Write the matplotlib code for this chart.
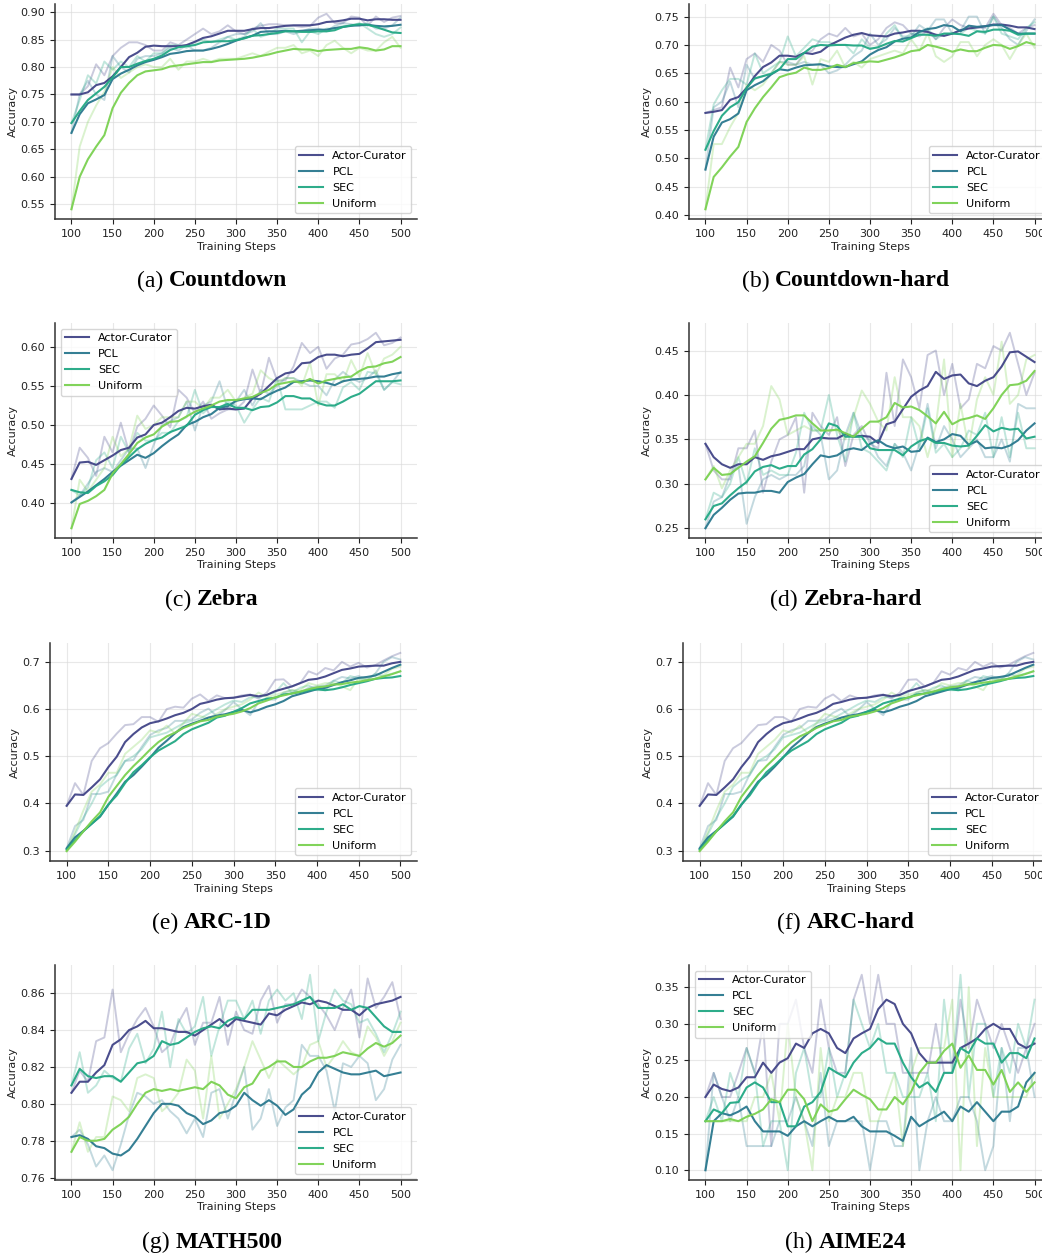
import numpy as np
import matplotlib
matplotlib.use("Agg")
import matplotlib.pyplot as plt

steps = list(range(100, 501, 10))
methods = ["Actor-Curator", "PCL", "SEC", "Uniform"]
colors = ["#414487", "#2a788e", "#22a884", "#7ad151"]

# ---------------- (a) Countdown ----------------
cd_ac = [0.75,0.75,0.754,0.767,0.771,0.783,0.80,0.818,0.826,0.837,0.839,0.838,0.838,0.838,0.840,0.846,0.853,0.856,0.861,0.866,0.866,0.866,0.869,0.871,0.871,0.873,0.875,0.876,0.876,0.876,0.878,0.882,0.883,0.885,0.888,0.888,0.885,0.887,0.887,0.886,0.886]
cd_pcl = [0.68,0.714,0.734,0.741,0.749,0.778,0.788,0.795,0.803,0.809,0.813,0.818,0.824,0.826,0.829,0.830,0.830,0.833,0.837,0.842,0.848,0.853,0.857,0.864,0.865,0.865,0.866,0.865,0.866,0.867,0.868,0.868,0.871,0.873,0.875,0.876,0.877,0.875,0.874,0.875,0.877]
cd_sec = [0.698,0.720,0.740,0.752,0.764,0.781,0.800,0.800,0.806,0.811,0.815,0.821,0.831,0.836,0.838,0.840,0.845,0.846,0.847,0.847,0.849,0.852,0.857,0.858,0.860,0.862,0.865,0.865,0.864,0.864,0.865,0.865,0.867,0.873,0.876,0.878,0.877,0.873,0.868,0.863,0.862]
cd_uni = [0.541,0.600,0.632,0.655,0.676,0.725,0.753,0.771,0.785,0.792,0.794,0.796,0.801,0.803,0.805,0.807,0.809,0.809,0.812,0.813,0.814,0.815,0.817,0.820,0.823,0.827,0.830,0.833,0.832,0.832,0.829,0.831,0.832,0.833,0.833,0.836,0.834,0.830,0.832,0.838,0.838]
cd_ac_raw = [0.75,0.75,0.765,0.805,0.785,0.82,0.835,0.845,0.845,0.84,0.83,0.83,0.845,0.84,0.85,0.86,0.87,0.86,0.865,0.876,0.865,0.86,0.87,0.875,0.878,0.878,0.876,0.875,0.873,0.875,0.89,0.897,0.88,0.88,0.892,0.89,0.875,0.892,0.882,0.89,0.893]
cd_pcl_raw = [0.68,0.75,0.775,0.75,0.74,0.82,0.80,0.79,0.815,0.82,0.82,0.825,0.835,0.83,0.84,0.83,0.83,0.835,0.845,0.855,0.86,0.86,0.865,0.88,0.86,0.86,0.865,0.86,0.865,0.87,0.87,0.865,0.875,0.88,0.878,0.875,0.88,0.87,0.87,0.876,0.89]
cd_sec_raw = [0.698,0.74,0.785,0.77,0.81,0.795,0.81,0.80,0.82,0.81,0.825,0.825,0.84,0.84,0.835,0.845,0.85,0.845,0.85,0.855,0.85,0.855,0.87,0.855,0.86,0.87,0.87,0.87,0.845,0.865,0.86,0.87,0.87,0.875,0.875,0.88,0.87,0.86,0.855,0.86,0.872]
cd_uni_raw = [0.541,0.655,0.70,0.73,0.755,0.80,0.78,0.79,0.80,0.805,0.80,0.80,0.815,0.795,0.81,0.81,0.815,0.81,0.815,0.815,0.815,0.82,0.825,0.82,0.828,0.835,0.835,0.84,0.825,0.83,0.82,0.84,0.848,0.835,0.825,0.835,0.83,0.83,0.845,0.855,0.835]

# ---------------- (b) Countdown-hard ----------------
cdh_ac = [0.58,0.582,0.585,0.603,0.608,0.624,0.645,0.661,0.669,0.681,0.681,0.679,0.686,0.684,0.688,0.699,0.706,0.713,0.718,0.721,0.717,0.716,0.715,0.720,0.722,0.725,0.725,0.723,0.718,0.716,0.72,0.726,0.729,0.731,0.733,0.736,0.736,0.734,0.731,0.731,0.728]
cdh_pcl = [0.48,0.538,0.563,0.569,0.579,0.62,0.629,0.636,0.648,0.657,0.655,0.66,0.664,0.665,0.666,0.662,0.661,0.661,0.666,0.671,0.683,0.691,0.696,0.706,0.711,0.713,0.723,0.728,0.730,0.735,0.733,0.724,0.734,0.732,0.733,0.735,0.735,0.727,0.72,0.72,0.72]
cdh_sec = [0.515,0.548,0.575,0.59,0.599,0.624,0.641,0.645,0.649,0.657,0.675,0.675,0.686,0.697,0.700,0.699,0.70,0.70,0.699,0.699,0.693,0.696,0.702,0.707,0.706,0.712,0.718,0.718,0.716,0.72,0.72,0.719,0.716,0.724,0.723,0.727,0.727,0.725,0.718,0.72,0.72]
cdh_uni = [0.41,0.467,0.484,0.503,0.52,0.564,0.588,0.608,0.625,0.643,0.648,0.651,0.66,0.656,0.656,0.659,0.665,0.661,0.668,0.669,0.671,0.670,0.674,0.678,0.683,0.689,0.691,0.70,0.697,0.693,0.688,0.692,0.689,0.689,0.695,0.70,0.699,0.693,0.698,0.705,0.701]
cdh_ac_raw = [0.58,0.585,0.59,0.66,0.625,0.675,0.685,0.67,0.70,0.69,0.665,0.665,0.685,0.69,0.71,0.72,0.715,0.73,0.715,0.72,0.70,0.71,0.73,0.74,0.735,0.72,0.715,0.725,0.71,0.73,0.745,0.735,0.73,0.73,0.73,0.755,0.735,0.73,0.72,0.73,0.735]
cdh_pcl_raw = [0.48,0.59,0.60,0.635,0.59,0.665,0.64,0.645,0.65,0.67,0.67,0.665,0.67,0.665,0.665,0.65,0.655,0.665,0.68,0.69,0.72,0.70,0.71,0.73,0.715,0.715,0.735,0.725,0.745,0.745,0.72,0.725,0.75,0.75,0.72,0.75,0.73,0.71,0.70,0.725,0.745]
cdh_sec_raw = [0.515,0.595,0.62,0.64,0.64,0.63,0.685,0.65,0.66,0.67,0.715,0.68,0.695,0.71,0.705,0.705,0.70,0.70,0.685,0.71,0.695,0.695,0.72,0.735,0.71,0.72,0.72,0.73,0.71,0.72,0.72,0.72,0.73,0.725,0.72,0.75,0.72,0.715,0.71,0.73,0.74]
cdh_uni_raw = [0.41,0.525,0.525,0.555,0.58,0.63,0.62,0.63,0.65,0.67,0.665,0.665,0.68,0.63,0.675,0.67,0.69,0.66,0.67,0.66,0.675,0.68,0.685,0.69,0.685,0.71,0.69,0.72,0.68,0.67,0.68,0.705,0.705,0.68,0.70,0.71,0.70,0.675,0.70,0.72,0.695]

# ---------------- (c) Zebra ----------------
zb_ac = [0.431,0.452,0.453,0.449,0.455,0.461,0.468,0.471,0.484,0.488,0.500,0.503,0.510,0.518,0.522,0.521,0.524,0.526,0.520,0.521,0.520,0.521,0.534,0.540,0.550,0.560,0.566,0.568,0.579,0.580,0.587,0.590,0.590,0.588,0.590,0.591,0.598,0.606,0.607,0.608,0.609]
zb_pcl = [0.401,0.408,0.415,0.423,0.431,0.44,0.448,0.455,0.462,0.458,0.464,0.473,0.481,0.488,0.500,0.504,0.510,0.514,0.522,0.524,0.531,0.533,0.534,0.533,0.539,0.544,0.548,0.555,0.556,0.557,0.556,0.554,0.551,0.556,0.558,0.559,0.560,0.562,0.562,0.565,0.567]
zb_sec = [0.417,0.414,0.413,0.422,0.428,0.436,0.449,0.459,0.469,0.476,0.481,0.484,0.491,0.495,0.499,0.513,0.519,0.523,0.523,0.527,0.522,0.522,0.519,0.523,0.524,0.529,0.537,0.537,0.534,0.534,0.528,0.525,0.525,0.530,0.536,0.540,0.548,0.556,0.556,0.556,0.557]
zb_uni = [0.368,0.399,0.403,0.409,0.417,0.438,0.450,0.463,0.477,0.484,0.488,0.498,0.504,0.505,0.511,0.517,0.521,0.525,0.530,0.532,0.532,0.534,0.536,0.541,0.545,0.552,0.554,0.556,0.554,0.559,0.553,0.557,0.559,0.561,0.562,0.569,0.574,0.575,0.579,0.581,0.587]
zb_ac_raw = [0.431,0.471,0.458,0.435,0.485,0.465,0.503,0.465,0.498,0.508,0.525,0.512,0.497,0.545,0.535,0.515,0.53,0.508,0.515,0.52,0.52,0.53,0.571,0.54,0.586,0.557,0.557,0.575,0.605,0.592,0.60,0.572,0.585,0.59,0.603,0.605,0.61,0.618,0.602,0.605,0.612]
zb_pcl_raw = [0.401,0.41,0.425,0.44,0.445,0.44,0.455,0.47,0.47,0.445,0.475,0.50,0.505,0.51,0.53,0.493,0.525,0.53,0.556,0.52,0.53,0.545,0.525,0.545,0.54,0.55,0.56,0.56,0.555,0.55,0.55,0.538,0.558,0.568,0.56,0.555,0.56,0.57,0.545,0.555,0.568]
zb_sec_raw = [0.417,0.41,0.42,0.455,0.465,0.445,0.485,0.465,0.49,0.48,0.48,0.49,0.49,0.505,0.51,0.545,0.515,0.525,0.52,0.53,0.525,0.503,0.52,0.535,0.53,0.56,0.52,0.52,0.52,0.525,0.53,0.53,0.522,0.548,0.555,0.545,0.568,0.566,0.545,0.555,0.552]
zb_uni_raw = [0.368,0.43,0.415,0.43,0.445,0.485,0.46,0.47,0.512,0.495,0.50,0.51,0.51,0.51,0.53,0.53,0.52,0.535,0.535,0.545,0.53,0.535,0.54,0.57,0.56,0.555,0.56,0.56,0.55,0.58,0.525,0.565,0.565,0.555,0.583,0.562,0.592,0.565,0.585,0.59,0.60]

# ---------------- (d) Zebra-hard ----------------
zh_ac = [0.345,0.330,0.322,0.318,0.322,0.322,0.330,0.327,0.331,0.333,0.336,0.339,0.339,0.35,0.352,0.351,0.351,0.356,0.353,0.354,0.353,0.346,0.367,0.370,0.384,0.398,0.405,0.410,0.426,0.418,0.422,0.423,0.413,0.410,0.416,0.420,0.432,0.448,0.449,0.443,0.437]
zh_pcl = [0.250,0.265,0.273,0.282,0.289,0.290,0.290,0.292,0.292,0.290,0.302,0.307,0.311,0.322,0.332,0.330,0.332,0.338,0.340,0.338,0.345,0.349,0.343,0.340,0.342,0.336,0.337,0.352,0.347,0.350,0.356,0.354,0.344,0.348,0.340,0.341,0.340,0.343,0.349,0.360,0.368]
zh_sec = [0.260,0.275,0.278,0.287,0.295,0.302,0.314,0.319,0.321,0.317,0.320,0.320,0.333,0.339,0.350,0.368,0.365,0.353,0.353,0.353,0.340,0.338,0.338,0.338,0.332,0.342,0.348,0.351,0.346,0.346,0.343,0.342,0.343,0.354,0.366,0.359,0.363,0.361,0.362,0.351,0.353]
zh_uni = [0.305,0.318,0.310,0.311,0.318,0.325,0.331,0.346,0.362,0.372,0.374,0.377,0.377,0.368,0.360,0.360,0.361,0.357,0.353,0.362,0.370,0.370,0.375,0.391,0.386,0.387,0.383,0.376,0.368,0.381,0.367,0.372,0.374,0.377,0.373,0.385,0.400,0.411,0.412,0.416,0.427]
zh_ac_raw = [0.345,0.315,0.305,0.305,0.34,0.34,0.36,0.29,0.325,0.35,0.355,0.375,0.29,0.38,0.365,0.355,0.375,0.32,0.355,0.365,0.345,0.34,0.425,0.365,0.44,0.42,0.385,0.445,0.45,0.40,0.435,0.385,0.395,0.435,0.43,0.455,0.45,0.47,0.435,0.40,0.425]
zh_pcl_raw = [0.25,0.28,0.285,0.31,0.32,0.255,0.285,0.305,0.31,0.305,0.31,0.31,0.32,0.365,0.355,0.305,0.315,0.355,0.38,0.355,0.35,0.33,0.32,0.345,0.335,0.315,0.345,0.39,0.34,0.365,0.35,0.33,0.34,0.35,0.33,0.33,0.35,0.325,0.39,0.385,0.385]
zh_sec_raw = [0.26,0.29,0.285,0.30,0.33,0.30,0.34,0.31,0.315,0.31,0.31,0.335,0.38,0.36,0.36,0.40,0.355,0.325,0.38,0.34,0.335,0.325,0.315,0.345,0.33,0.375,0.34,0.385,0.335,0.345,0.33,0.34,0.36,0.355,0.38,0.33,0.375,0.33,0.38,0.34,0.34]
zh_uni_raw = [0.305,0.32,0.295,0.315,0.33,0.345,0.345,0.365,0.41,0.395,0.355,0.36,0.365,0.36,0.36,0.36,0.36,0.35,0.375,0.405,0.39,0.37,0.36,0.42,0.375,0.375,0.365,0.33,0.365,0.44,0.33,0.39,0.34,0.395,0.42,0.40,0.46,0.39,0.40,0.44,0.445]

# ---------------- (e) ARC-1D / (f) ARC-hard ----------------
arc_ac = [0.395,0.419,0.418,0.434,0.451,0.477,0.499,0.530,0.547,0.561,0.570,0.574,0.580,0.587,0.592,0.600,0.611,0.615,0.620,0.623,0.624,0.627,0.630,0.627,0.630,0.638,0.643,0.648,0.655,0.662,0.664,0.669,0.676,0.683,0.686,0.690,0.691,0.692,0.692,0.697,0.700]
arc_pcl = [0.305,0.328,0.342,0.357,0.372,0.397,0.421,0.446,0.460,0.478,0.497,0.518,0.533,0.549,0.562,0.569,0.575,0.582,0.586,0.589,0.594,0.598,0.593,0.598,0.605,0.610,0.617,0.627,0.632,0.637,0.642,0.645,0.651,0.657,0.661,0.666,0.668,0.671,0.679,0.687,0.694]
arc_sec = [0.302,0.322,0.341,0.357,0.373,0.398,0.417,0.443,0.466,0.481,0.498,0.512,0.522,0.532,0.547,0.557,0.564,0.571,0.582,0.586,0.594,0.602,0.612,0.617,0.622,0.624,0.631,0.633,0.636,0.640,0.642,0.640,0.642,0.646,0.651,0.655,0.659,0.664,0.666,0.667,0.670]
arc_uni = [0.299,0.319,0.341,0.362,0.381,0.414,0.437,0.460,0.479,0.496,0.514,0.530,0.542,0.550,0.560,0.567,0.574,0.577,0.584,0.587,0.590,0.595,0.602,0.612,0.618,0.625,0.629,0.633,0.637,0.642,0.646,0.648,0.652,0.653,0.656,0.658,0.661,0.664,0.669,0.674,0.680]
arc_ac_raw = [0.395,0.443,0.418,0.49,0.517,0.528,0.548,0.566,0.568,0.583,0.583,0.573,0.60,0.605,0.603,0.622,0.631,0.617,0.629,0.623,0.624,0.629,0.631,0.622,0.635,0.662,0.663,0.648,0.655,0.68,0.673,0.687,0.682,0.70,0.69,0.698,0.688,0.693,0.703,0.712,0.719]
arc_pcl_raw = [0.305,0.352,0.365,0.42,0.42,0.425,0.462,0.49,0.492,0.52,0.545,0.555,0.56,0.575,0.575,0.578,0.592,0.601,0.585,0.598,0.615,0.60,0.587,0.615,0.62,0.62,0.635,0.64,0.635,0.645,0.648,0.65,0.66,0.668,0.665,0.67,0.663,0.675,0.70,0.71,0.705]
arc_sec_raw = [0.302,0.335,0.37,0.40,0.435,0.45,0.46,0.49,0.50,0.515,0.54,0.545,0.55,0.56,0.57,0.575,0.58,0.59,0.60,0.61,0.618,0.615,0.625,0.625,0.63,0.635,0.655,0.635,0.645,0.65,0.64,0.64,0.66,0.655,0.67,0.665,0.66,0.675,0.67,0.675,0.68]
arc_uni_raw = [0.299,0.34,0.385,0.425,0.44,0.465,0.465,0.505,0.52,0.535,0.555,0.55,0.565,0.548,0.57,0.59,0.585,0.58,0.59,0.60,0.605,0.61,0.62,0.635,0.625,0.63,0.635,0.64,0.64,0.655,0.65,0.655,0.655,0.648,0.64,0.665,0.663,0.665,0.672,0.685,0.69]

# ---------------- (g) MATH500 ----------------
m5_ac = [0.806,0.812,0.812,0.817,0.821,0.832,0.835,0.840,0.842,0.845,0.841,0.841,0.840,0.839,0.839,0.837,0.840,0.843,0.846,0.842,0.846,0.845,0.844,0.843,0.849,0.848,0.851,0.853,0.855,0.854,0.856,0.855,0.853,0.851,0.851,0.848,0.852,0.854,0.855,0.856,0.858]
m5_pcl = [0.782,0.783,0.781,0.777,0.776,0.773,0.772,0.775,0.781,0.788,0.795,0.800,0.800,0.799,0.795,0.793,0.789,0.791,0.795,0.796,0.799,0.806,0.802,0.799,0.802,0.799,0.794,0.797,0.805,0.809,0.817,0.821,0.819,0.817,0.816,0.816,0.817,0.818,0.815,0.816,0.817]
m5_sec = [0.810,0.819,0.815,0.814,0.815,0.815,0.812,0.817,0.822,0.823,0.826,0.834,0.832,0.833,0.836,0.839,0.841,0.842,0.841,0.845,0.847,0.846,0.851,0.851,0.851,0.852,0.853,0.854,0.856,0.858,0.852,0.852,0.852,0.854,0.851,0.853,0.852,0.847,0.842,0.839,0.839]
m5_uni = [0.774,0.782,0.780,0.780,0.781,0.786,0.789,0.793,0.800,0.806,0.808,0.807,0.808,0.807,0.808,0.809,0.808,0.812,0.810,0.805,0.803,0.809,0.811,0.818,0.820,0.823,0.823,0.820,0.820,0.823,0.825,0.825,0.826,0.828,0.827,0.826,0.830,0.833,0.831,0.833,0.837]
m5_ac_raw = [0.806,0.818,0.812,0.834,0.836,0.862,0.828,0.838,0.846,0.852,0.842,0.828,0.832,0.844,0.852,0.832,0.844,0.844,0.858,0.832,0.85,0.84,0.838,0.856,0.864,0.844,0.854,0.854,0.862,0.858,0.854,0.848,0.84,0.852,0.862,0.836,0.868,0.852,0.858,0.866,0.846]
m5_pcl_raw = [0.782,0.786,0.778,0.766,0.772,0.764,0.778,0.794,0.806,0.804,0.80,0.802,0.796,0.792,0.784,0.792,0.782,0.806,0.808,0.792,0.806,0.82,0.786,0.792,0.808,0.788,0.798,0.802,0.832,0.826,0.826,0.818,0.796,0.822,0.82,0.826,0.822,0.802,0.808,0.824,0.832]
m5_sec_raw = [0.81,0.828,0.806,0.81,0.818,0.814,0.812,0.83,0.838,0.822,0.83,0.85,0.82,0.846,0.838,0.842,0.858,0.826,0.842,0.856,0.856,0.846,0.856,0.838,0.856,0.862,0.856,0.86,0.846,0.87,0.834,0.85,0.862,0.856,0.854,0.844,0.846,0.838,0.828,0.838,0.85]
m5_uni_raw = [0.774,0.79,0.774,0.782,0.782,0.804,0.802,0.796,0.814,0.816,0.814,0.796,0.80,0.806,0.824,0.818,0.792,0.826,0.792,0.80,0.808,0.82,0.834,0.824,0.814,0.824,0.82,0.816,0.82,0.832,0.834,0.82,0.826,0.834,0.828,0.826,0.842,0.836,0.826,0.834,0.844]

# ---------------- (h) AIME24 ----------------
ai_ac = [0.200,0.217,0.211,0.208,0.213,0.227,0.227,0.247,0.233,0.247,0.253,0.273,0.267,0.287,0.293,0.287,0.267,0.260,0.280,0.287,0.293,0.320,0.333,0.327,0.300,0.287,0.260,0.247,0.247,0.247,0.247,0.267,0.273,0.280,0.293,0.300,0.293,0.293,0.273,0.267,0.273]
ai_pcl = [0.100,0.167,0.178,0.175,0.180,0.187,0.167,0.153,0.153,0.153,0.147,0.160,0.167,0.160,0.167,0.173,0.167,0.167,0.173,0.160,0.153,0.153,0.153,0.147,0.140,0.173,0.160,0.167,0.173,0.180,0.167,0.187,0.180,0.193,0.180,0.167,0.180,0.180,0.187,0.220,0.233]
ai_sec = [0.167,0.183,0.178,0.192,0.193,0.213,0.220,0.213,0.193,0.193,0.160,0.160,0.187,0.193,0.207,0.240,0.233,0.227,0.247,0.260,0.267,0.280,0.273,0.273,0.247,0.227,0.213,0.220,0.207,0.233,0.233,0.267,0.260,0.280,0.273,0.273,0.247,0.260,0.260,0.253,0.280]
ai_uni = [0.167,0.167,0.167,0.170,0.167,0.173,0.177,0.183,0.197,0.193,0.210,0.210,0.197,0.167,0.190,0.180,0.183,0.197,0.210,0.203,0.197,0.183,0.183,0.200,0.190,0.207,0.233,0.247,0.247,0.263,0.273,0.240,0.257,0.237,0.237,0.217,0.237,0.207,0.220,0.207,0.220]
ai_ac_raw = [0.2,0.233,0.2,0.2,0.233,0.267,0.233,0.3,0.133,0.3,0.3,0.333,0.267,0.233,0.333,0.267,0.233,0.233,0.333,0.367,0.3,0.367,0.3,0.3,0.233,0.233,0.233,0.233,0.3,0.233,0.233,0.333,0.267,0.333,0.3,0.267,0.3,0.267,0.233,0.267,0.3]
ai_pcl_raw = [0.1,0.233,0.2,0.167,0.2,0.133,0.133,0.133,0.133,0.167,0.167,0.2,0.167,0.133,0.233,0.133,0.167,0.167,0.167,0.167,0.1,0.167,0.167,0.133,0.133,0.267,0.1,0.167,0.2,0.167,0.167,0.2,0.2,0.167,0.1,0.133,0.267,0.167,0.267,0.267,0.2]
ai_sec_raw = [0.167,0.2,0.167,0.233,0.2,0.267,0.233,0.133,0.167,0.167,0.1,0.233,0.267,0.2,0.2,0.267,0.2,0.233,0.333,0.3,0.267,0.3,0.233,0.233,0.2,0.2,0.2,0.233,0.167,0.333,0.233,0.367,0.2,0.3,0.3,0.2,0.267,0.233,0.3,0.267,0.333]
ai_uni_raw = [0.167,0.167,0.167,0.167,0.167,0.167,0.2,0.2,0.233,0.167,0.3,0.2,0.167,0.1,0.267,0.167,0.2,0.2,0.233,0.233,0.167,0.167,0.2,0.233,0.133,0.233,0.267,0.267,0.267,0.267,0.333,0.1,0.35,0.133,0.267,0.2,0.2,0.2,0.2,0.2,0.233]

W, H = 1042, 1257
fig = plt.figure(figsize=(W / 100, H / 100), dpi=100)
plt.rcParams['font.family'] = ['DejaVu Sans']

def px_axes(x0, y0, x1, y1):
    return fig.add_axes([x0 / W, 1 - y1 / H, (x1 - x0) / W, (y1 - y0) / H])

panels = [
    # (box, smooth, raw, legend loc, label, name, caption center x, caption y)
    ((55, 4, 417, 219), [cd_ac, cd_pcl, cd_sec, cd_uni], [cd_ac_raw, cd_pcl_raw, cd_sec_raw, cd_uni_raw], "lower right", "(a)", "Countdown", 212, 281),
    ((689, 4, 1051, 219), [cdh_ac, cdh_pcl, cdh_sec, cdh_uni], [cdh_ac_raw, cdh_pcl_raw, cdh_sec_raw, cdh_uni_raw], "lower right", "(b)", "Countdown-hard", 846, 281),
    ((55, 323, 417, 538), [zb_ac, zb_pcl, zb_sec, zb_uni], [zb_ac_raw, zb_pcl_raw, zb_sec_raw, zb_uni_raw], "upper left", "(c)", "Zebra", 212, 600),
    ((689, 323, 1051, 538), [zh_ac, zh_pcl, zh_sec, zh_uni], [zh_ac_raw, zh_pcl_raw, zh_sec_raw, zh_uni_raw], "lower right", "(d)", "Zebra-hard", 846, 600),
    ((50, 643, 417, 861), [arc_ac, arc_pcl, arc_sec, arc_uni], [arc_ac_raw, arc_pcl_raw, arc_sec_raw, arc_uni_raw], "lower right", "(e)", "ARC-1D", 212, 923),
    ((683, 643, 1050, 861), [arc_ac, arc_pcl, arc_sec, arc_uni], [arc_ac_raw, arc_pcl_raw, arc_sec_raw, arc_uni_raw], "lower right", "(f)", "ARC-hard", 846, 923),
    ((55, 965, 417, 1180), [m5_ac, m5_pcl, m5_sec, m5_uni], [m5_ac_raw, m5_pcl_raw, m5_sec_raw, m5_uni_raw], "lower right", "(g)", "MATH500", 212, 1242),
    ((689, 965, 1051, 1180), [ai_ac, ai_pcl, ai_sec, ai_uni], [ai_ac_raw, ai_pcl_raw, ai_sec_raw, ai_uni_raw], "upper left", "(h)", "AIME24", 846, 1242),
]

captions = []
for box, smooth, raw, loc, lab, name, cx, cy in panels:
    ax = px_axes(*box)
    for r, c in zip(raw, colors):
        ax.plot(steps, r, color=c, alpha=0.28, lw=1.4)
    for s, c, m in zip(smooth, colors, methods):
        ax.plot(steps, s, color=c, alpha=0.95, lw=1.5, label=m)
    ax.set_xticks(range(100, 501, 50))
    ax.tick_params(labelsize=8, colors="#222222", length=3.5, width=0.8)
    ax.grid(True, color="#d9d9d9", alpha=0.6, lw=0.8)
    ax.set_axisbelow(True)
    for sp in ("top", "right"):
        ax.spines[sp].set_visible(False)
    for sp in ("left", "bottom"):
        ax.spines[sp].set_color("#333333")
        ax.spines[sp].set_linewidth(1.1)
    ax.set_xlabel("Training Steps", fontsize=8, labelpad=2, color="#222222")
    ax.set_ylabel("Accuracy", fontsize=8, labelpad=2, color="#222222")
    ax.legend(loc=loc, fontsize=8, frameon=True, framealpha=0.8, edgecolor="#cccccc",
              handlelength=2.2, borderpad=0.4, labelspacing=0.55)
    t1 = fig.text(0, 1 - cy / H, lab + "\u00a0", fontfamily="Liberation Serif", fontsize=17, va="center")
    t2 = fig.text(0, 1 - cy / H, name, fontfamily="Liberation Serif", fontsize=17, fontweight="bold", va="center")
    captions.append((t1, t2, cx, cy))

fig.canvas.draw()
rend = fig.canvas.get_renderer()
for t1, t2, cx, cy in captions:
    w1 = t1.get_window_extent(rend).width
    w2 = t2.get_window_extent(rend).width
    x0 = cx - (w1 + w2) / 2
    t1.set_position((x0 / W, 1 - cy / H))
    t2.set_position(((x0 + w1) / W, 1 - cy / H))

fig.savefig("out.png", dpi=100)
